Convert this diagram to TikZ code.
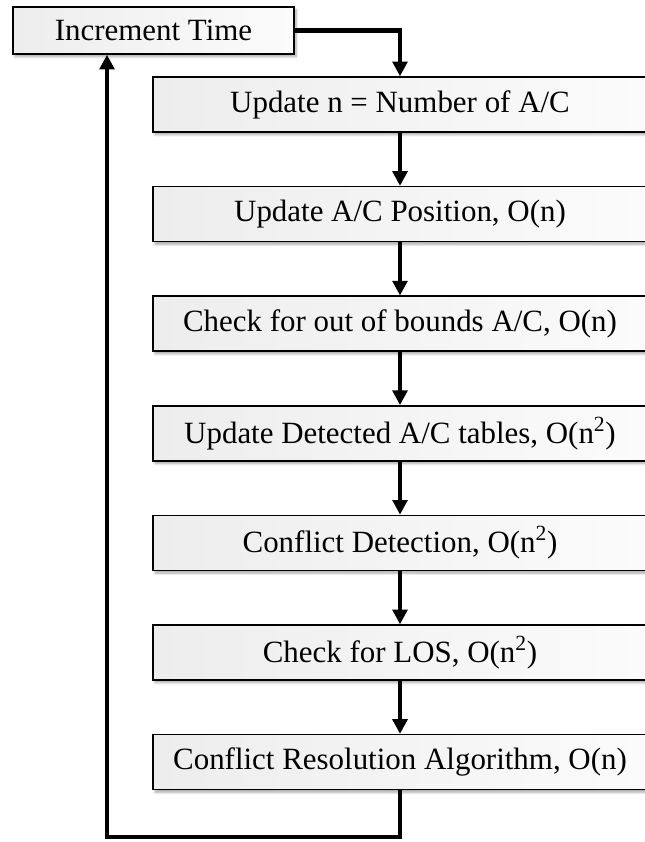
\documentclass[tikz,border=0pt]{standalone}
\usepackage{fontspec}
\setmainfont{Liberation Serif}
\usepackage{tikz}
\usetikzlibrary{arrows.meta, positioning, calc, shadows.blur}
\definecolor{boxleft}{HTML}{EDEDED}
\definecolor{boxright}{HTML}{FBFBFB}

\begin{document}
\begin{tikzpicture}[x=0.75pt, y=-0.75pt,
    stepbox/.style={draw=black, line width=1.1pt, left color=boxleft, right color=boxright,
        minimum width=370.5pt, minimum height=41.25pt, inner sep=0pt,
        font=\fontsize{23.2}{27}\selectfont,
        blur shadow={shadow xshift=1.5pt, shadow yshift=-2pt, shadow blur steps=6, shadow opacity=35}},
    flow/.style={line width=3.4pt, -{Triangle[length=11pt, width=11pt]}}]
    \useasboundingbox (0, 0) rectangle (644, 842);

    % ── Time step ────────────────────────────────────────────────────
    \node[stepbox, minimum width=210.75pt, minimum height=35.25pt] (inc) at (153.5, 30.5) {Increment Time};

    % ── Per-step updates ─────────────────────────────────────────────
    \node[stepbox] (b1) at (400, 104.5) {Update n = Number of A/C};
    \node[stepbox] (b2) at (400, 214.1) {Update A/C Position, O(n)};
    \node[stepbox] (b3) at (400, 323.7) {Check for out of bounds A/C, O(n)};
    \node[stepbox] (b4) at (400, 433.3) {Update Detected A/C tables, O(n\textsuperscript{2})};
    \node[stepbox] (b5) at (400, 542.9) {Conflict Detection, O(n\textsuperscript{2})};
    \node[stepbox] (b6) at (400, 652.5) {Check for LOS, O(n\textsuperscript{2})};
    \node[stepbox] (b7) at (400, 762.1) {Conflict Resolution Algorithm, O(n)};

    % Arrows
    \draw[flow] (inc.east) -| (b1.north);
    \foreach \a/\b in {b1/b2, b2/b3, b3/b4, b4/b5, b5/b6, b6/b7}{
        \draw[flow] (\a) -- (\b);
    }

    % Loop back
    \coordinate (loopcorner) at (107, 837);
    \draw[flow] (b7.south) |- (loopcorner) -- (loopcorner |- inc.south);
\end{tikzpicture}
\end{document}
